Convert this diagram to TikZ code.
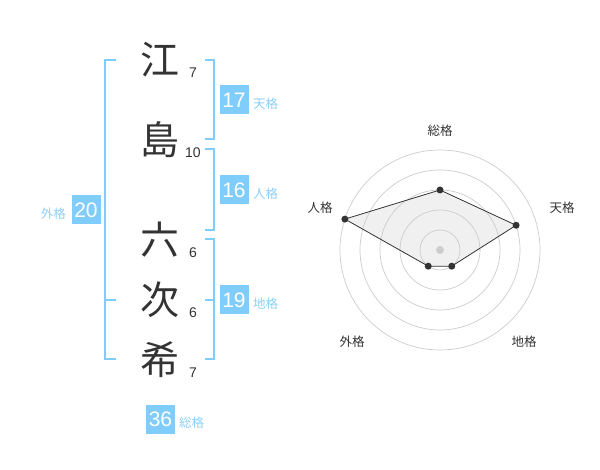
\documentclass[tikz,border=0pt]{standalone}
\usepackage{fontspec}
\setmainfont{Noto Sans CJK JP}
\newfontfamily\digits{Liberation Sans}
\definecolor{sky}{HTML}{80CCFA}
\definecolor{skytxt}{HTML}{8DCFF6}
\definecolor{ink}{HTML}{333333}
\definecolor{ring}{HTML}{CCCCCC}
\definecolor{area}{HTML}{F0F0F0}
\tikzset{
  kanji/.style={font=\fontsize{39}{39}\selectfont, text=ink, inner sep=0pt},
  strokes/.style={font=\digits\fontsize{14}{14}\selectfont, text=ink, inner sep=0pt},
  numbox/.style={fill=sky, text=white, minimum width=29pt, minimum height=29pt, inner sep=0pt, font=\digits\fontsize{21}{21}\selectfont},
  kaku/.style={font=\fontsize{12.5}{12.5}\selectfont, text=skytxt, inner sep=0pt, anchor=west},
  brk/.style={draw=sky, line width=2pt},
  axlabel/.style={font=\fontsize{12.5}{12.5}\selectfont, text=ink, inner sep=0pt},
  dot/.style={circle, fill=ink, minimum size=7pt, inner sep=0pt},
}
\begin{document}
\begin{tikzpicture}[x=1pt,y=-1pt]
\useasboundingbox (0,0) rectangle (600,470);
% characters
\node[kanji] (c1) at (160,60) {江};
\node[kanji] (c2) at (160,140) {島};
\node[kanji] (c3) at (160,240) {六};
\node[kanji] (c4) at (160,300) {次};
\node[kanji] (c5) at (160,360) {希};
\node[strokes] (s1) at (193,73) {7};
\node[strokes] (s2) at (193,153) {10};
\node[strokes] (s3) at (193,253) {6};
\node[strokes] (s4) at (193,313) {6};
\node[strokes] (s5) at (193,373) {7};
% brackets
\draw[brk] (116,60) -- (105,60) -- (105,359) -- (116,359);
\draw[brk] (105,300) -- (116,300);
\draw[brk] (205,60) -- (214,60) -- (214,139) -- (205,139);
\draw[brk] (205,149) -- (214,149) -- (214,230) -- (205,230);
\draw[brk] (205,239) -- (214,239) -- (214,359) -- (205,359);
\draw[brk] (214,300) -- (205,300);
% boxes
\node[numbox] (b17) at (234,100) {17};
\node[kaku] (k17) at (253,104) {天格};
\node[numbox] (b16) at (234,190) {16};
\node[kaku] (k16) at (253,194) {人格};
\node[numbox] (b19) at (234,300) {19};
\node[kaku] (k19) at (253,304) {地格};
\node[numbox] (b20) at (86,210) {20};
\node[kaku, anchor=east] (k20) at (66,214) {外格};
\node[numbox] (b36) at (160.5,419) {36};
\node[kaku] (k36) at (179,423) {総格};
% radar
\begin{scope}[shift={(440,250)}, y=1pt]
  \coordinate (pS) at (90:60);
  \coordinate (pT) at (18:80);
  \coordinate (pC) at (-54:20);
  \coordinate (pG) at (-126:20);
  \coordinate (pJ) at (162:100);
  \fill[area] (pS) -- (pT) -- (pC) -- (pG) -- (pJ) -- cycle;
  \foreach \r in {20,40,60,80,100} \draw[ring, line width=0.7pt] (0,0) circle[radius=\r pt];
  \draw[ink, line width=0.8pt] (pS) -- (pT) -- (pC) -- (pG) -- (pJ) -- cycle;
  \node[dot] (dS) at (pS) {};
  \node[dot] (dT) at (pT) {};
  \node[dot] (dC) at (pC) {};
  \node[dot] (dG) at (pG) {};
  \node[dot] (dJ) at (pJ) {};
  \node[circle, fill=ring, minimum size=8pt, inner sep=0pt] (ctr) at (0,0) {};
\end{scope}
\node[axlabel] (aS) at (440,131) {総格};
\node[axlabel] (aT) at (562,208) {天格};
\node[axlabel] (aJ) at (320,208) {人格};
\node[axlabel] (aG) at (352,342) {外格};
\node[axlabel] (aC) at (524,342) {地格};
\end{tikzpicture}
\end{document}
